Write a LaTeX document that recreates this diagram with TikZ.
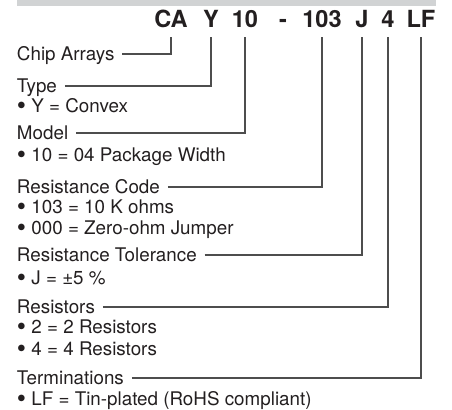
\documentclass[tikz,border=0pt]{standalone}
\usepackage{fontspec}
\setmainfont{TeX Gyre Heros}
\definecolor{bargray}{RGB}{209, 211, 212}
\definecolor{leadgray}{RGB}{77, 77, 77}
\definecolor{inkblack}{RGB}{35, 31, 32}
\usetikzlibrary{positioning}
\tikzset{
  codenode/.style={anchor=base, font=\fontsize{11.8}{13}\selectfont\bfseries, text=inkblack, inner xsep=0pt, inner ysep=4.5pt, text depth=0pt, outer sep=0pt},
  fieldnode/.style={anchor=west, font=\fontsize{9.4}{11}\selectfont, text=inkblack, inner xsep=4pt, inner ysep=1pt, text height=6.5pt, text depth=0pt, outer sep=0pt},
  itemnode/.style={fieldnode},
  leader/.style={draw=leadgray, line width=0.6pt},
}
\newcommand{\pnbullet}{\raisebox{-1pt}{\scalebox{1.4}{\textbullet}}\ }

\begin{document}
\begin{tikzpicture}[x=0.5pt, y=-0.5pt]
  \useasboundingbox (0,0) rectangle (452,410);
  \fill[bargray] (17,0) rectangle (436,6);
  % part number
  \node[codenode] (ca) at (171,28) {CA};
  \node[codenode] (y) at (211,28) {Y};
  \node[codenode] (ten) at (245,28) {10};
  \node[codenode] (dash) at (283,28) {-};
  \node[codenode] (rc) at (322,28) {103};
  \node[codenode] (tol) at (362,28) {J};
  \node[codenode] (cnt) at (388,28) {4};
  \node[codenode] (lf) at (421,28) {LF};
  % fields
  \node[fieldnode] (chip) at (9,54) {Chip Arrays};
  \node[fieldnode] (type) at (9,86) {Type};
  \node[itemnode] (typea) at (9,106) {\pnbullet Y = Convex};
  \node[fieldnode] (model) at (9,133) {Model};
  \node[itemnode] (modela) at (9,155) {\pnbullet 10 = 04 Package Width};
  \node[fieldnode] (rcode) at (9,187) {Resistance Code};
  \node[itemnode] (rcodea) at (9,207) {\pnbullet 103 = 10 K ohms};
  \node[itemnode] (rcodeb) at (9,228) {\pnbullet 000 = Zero-ohm Jumper};
  \node[fieldnode] (rtol) at (9,255) {Resistance Tolerance};
  \node[itemnode] (rtola) at (9,278) {\pnbullet J = ±5 \%};
  \node[fieldnode] (resist) at (9,307) {Resistors};
  \node[itemnode] (resista) at (9,327) {\pnbullet 2 = 2 Resistors};
  \node[itemnode] (resistb) at (9,349) {\pnbullet 4 = 4 Resistors};
  \node[fieldnode] (term) at (9,378) {Terminations};
  \node[itemnode] (terma) at (9,399) {\pnbullet LF = Tin-plated (RoHS compliant)};
  % leaders
  \draw[leader] (chip.east) -| (ca.south);
  \draw[leader] (type.east) -| (y.south);
  \draw[leader] (model.east) -| (ten.south);
  \draw[leader] (rcode.east) -| (rc.south);
  \draw[leader] (rtol.east) -| (tol.south);
  \draw[leader] (resist.east) -| (cnt.south);
  \draw[leader] (term.east) -| (lf.south);
\end{tikzpicture}
\end{document}
